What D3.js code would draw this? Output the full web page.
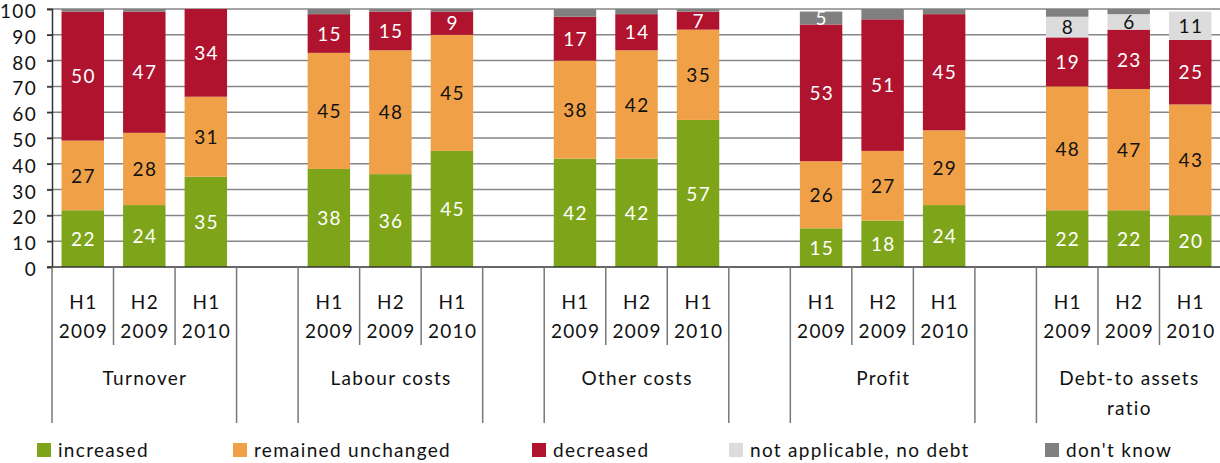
<!DOCTYPE html>
<html>
<head>
<meta charset="utf-8">
<script src="https://cdn.jsdelivr.net/npm/d3@7"></script>
<style>
  body { margin: 0; background: #fff; }
  svg { font-family: Lato, "Noto Sans", sans-serif; letter-spacing: 1.3px; }
</style>
</head>
<body>
<div id="chart"></div>
<script>
const groups = ["Turnover", "Labour costs", "Other costs", "Profit", "Debt-to assets ratio"];
const periods = [["H1", "2009"], ["H2", "2009"], ["H1", "2010"]];
const yTicks = [0, 10, 20, 30, 40, 50, 60, 70, 80, 90, 100];

// one entry per bar, five groups of three
const increased = [22, 24, 35, 38, 36, 45, 42, 42, 57, 15, 18, 24, 22, 22, 20];
const unchanged = [27, 28, 31, 45, 48, 45, 38, 42, 35, 26, 27, 29, 48, 47, 43];
const decreased = [50, 47, 34, 15, 15, 9, 17, 14, 7, 53, 51, 45, 19, 23, 25];
const noDebt = [0, 0, 0, 0, 0, 0, 0, 0, 0, 0, 0, 0, 8, 6, 11];
const dontKnow = [1, 1, 0, 2, 1, 1, 3, 2, 1, 5, 4, 2, 3, 2, 0];

const seriesNames = ["increased", "remained unchanged", "decreased", "not applicable, no debt", "don't know"];
const seriesKeys = ["inc", "unch", "dec", "na", "dk"];
const colors = ["#7ea519", "#f0a148", "#b0132e", "#dcdcdc", "#808080"];
const labelColors = ["#fff", "#111", "#fff", "#111", "#fff"];

const width = 1220;
const height = 463;
const plotLeft = 52;
const plotRight = 1221;
const plotTop = 9;
const plotBottom = 267;

// slots: three bars per group plus an empty slot between groups
const slots = [];
groups.forEach((g, gi) => {
  periods.forEach((p, pi) => slots.push({ key: gi + "-" + pi, group: gi, period: pi, bar: gi * 3 + pi }));
  if (gi < groups.length - 1) slots.push({ key: "gap" + gi, group: -1 });
});

const rows = slots.filter((s) => s.group >= 0).map((s) => ({
  key: s.key,
  inc: increased[s.bar],
  unch: unchanged[s.bar],
  dec: decreased[s.bar],
  na: noDebt[s.bar],
  dk: dontKnow[s.bar],
}));

const x = d3.scaleBand()
  .domain(slots.map((s) => s.key))
  .range([plotLeft, plotRight])
  .paddingInner(0.31)
  .paddingOuter(0.155);

const y = d3.scaleLinear().domain([0, 100]).range([plotBottom, plotTop]);

const step = x.step();
const slotLeft = (key) => x(key) - step * x.paddingInner() / 2;
const barMid = (key) => x(key) + x.bandwidth() / 2 + 0.65;

const svg = d3.select("#chart")
  .append("svg")
  .attr("width", width)
  .attr("height", height);

// gridlines
svg.append("g")
  .selectAll("line")
  .data(yTicks.slice(1))
  .enter()
  .append("line")
  .attr("x1", plotLeft - 5)
  .attr("x2", plotRight)
  .attr("y1", (d) => y(d))
  .attr("y2", (d) => y(d))
  .attr("stroke", "#868686")
  .attr("stroke-width", 1.5);

// y axis
const yAxis = svg.append("g")
  .attr("transform", `translate(${plotLeft},0)`)
  .call(d3.axisLeft(y).tickValues(yTicks).tickSize(5).tickPadding(10));
yAxis.select(".domain").attr("stroke", "#333").attr("stroke-width", 1.5);
yAxis.selectAll(".tick line").attr("stroke", "#333").attr("stroke-width", 1.5);
yAxis.selectAll(".tick text")
  .attr("font-family", "Lato, 'Noto Sans', sans-serif")
  .attr("font-size", 19)
  .attr("dy", "0.45em")
  .attr("fill", "#111");

// stacked bars
const stack = d3.stack().keys(seriesKeys);
const layers = stack(rows);

const layerG = svg.append("g")
  .selectAll("g")
  .data(layers)
  .enter()
  .append("g")
  .attr("fill", (d, i) => colors[i]);

layerG.selectAll("rect")
  .data((d) => d)
  .enter()
  .append("rect")
  .attr("x", (d) => x(d.data.key))
  .attr("width", x.bandwidth())
  .attr("y", (d) => y(d[1]))
  .attr("height", (d) => y(d[0]) - y(d[1]));

// value labels
layers.forEach((layer, li) => {
  svg.append("g")
    .selectAll("text")
    .data(layer.filter((d) => d[1] - d[0] >= 5))
    .enter()
    .append("text")
    .attr("x", (d) => barMid(d.data.key))
    .attr("y", (d) => y((d[0] + d[1]) / 2))
    .attr("dy", "0.38em")
    .attr("text-anchor", "middle")
    .attr("font-size", 19)
    .attr("fill", labelColors[li])
    .text((d) => d[1] - d[0]);
});

// zero line
svg.append("line")
  .attr("x1", plotLeft - 5)
  .attr("x2", plotRight)
  .attr("y1", y(0))
  .attr("y2", y(0))
  .attr("stroke", "#333")
  .attr("stroke-width", 1.5);

// category separators
const bounds = slots.map((s, i) => {
  const prev = slots[i - 1];
  const inner = prev && prev.group >= 0 && prev.group === s.group;
  return { x: slotLeft(s.key), inner: inner };
});
bounds.push({ x: plotRight, inner: false });

svg.append("g")
  .selectAll("line")
  .data(bounds)
  .enter()
  .append("line")
  .attr("x1", (d) => d.x)
  .attr("x2", (d) => d.x)
  .attr("y1", y(0))
  .attr("y2", (d) => (d.inner ? 345 : 423))
  .attr("stroke", "#777")
  .attr("stroke-width", 1.5);

// period labels
const barSlots = slots.filter((s) => s.group >= 0);
const periodText = svg.append("g")
  .selectAll("text")
  .data(barSlots)
  .enter()
  .append("text")
  .attr("text-anchor", "middle")
  .attr("font-size", 19)
  .attr("fill", "#111");
periodText.append("tspan")
  .attr("x", (d) => barMid(d.key))
  .attr("y", 309)
  .text((d) => periods[d.period][0]);
periodText.append("tspan")
  .attr("x", (d) => barMid(d.key))
  .attr("y", 338)
  .text((d) => periods[d.period][1]);

// group labels
const groupLines = [["Turnover"], ["Labour costs"], ["Other costs"], ["Profit"], ["Debt-to assets", "ratio"]];
svg.append("g")
  .selectAll("text")
  .data(groups)
  .enter()
  .append("text")
  .attr("text-anchor", "middle")
  .attr("font-size", 19)
  .attr("fill", "#111")
  .each(function (g, gi) {
    const cx = barMid(gi + "-1");
    d3.select(this)
      .selectAll("tspan")
      .data(groupLines[gi])
      .enter()
      .append("tspan")
      .attr("x", cx)
      .attr("y", (d, i) => 385 + i * 30)
      .text((d) => d);
  });

// legend
const legendX = [37, 233, 532, 729, 1045];
const legend = svg.append("g")
  .selectAll("g")
  .data(seriesNames)
  .enter()
  .append("g")
  .attr("transform", (d, i) => `translate(${legendX[i]},443)`);
legend.append("rect")
  .attr("width", 14)
  .attr("height", 14)
  .attr("fill", (d, i) => colors[i]);
legend.append("text")
  .attr("x", 21)
  .attr("y", 14)
  .attr("font-size", 19)
  .attr("fill", "#111")
  .text((d) => d);
</script>
</body>
</html>
